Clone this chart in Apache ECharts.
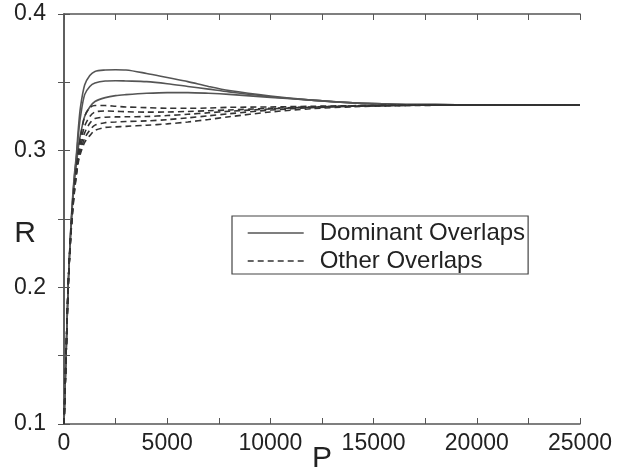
<!DOCTYPE html>
<html>
<head>
<meta charset="utf-8">
<script src="https://cdn.jsdelivr.net/npm/echarts@6/dist/echarts.min.js"></script>
<style>
html,body{margin:0;padding:0;background:#fff;}
#chart{width:626px;height:476px;}
</style>
</head>
<body>
<div id="chart"></div>
<script>
// P values (x)
var pValues = [0, 100, 200, 300, 400, 500, 600, 700, 800, 1000, 1250, 1500, 2000, 2500, 3000, 4000, 5000, 6000, 7000, 8000, 10000, 12000, 14000, 16000, 18000, 20000, 22000, 25000];

// Dominant overlaps (solid)
var dominant1 = [0.100, 0.150, 0.200, 0.235, 0.262, 0.282, 0.297, 0.317, 0.332, 0.348, 0.355, 0.358, 0.359, 0.3592, 0.359, 0.3565, 0.3535, 0.3505, 0.347, 0.344, 0.340, 0.337, 0.335, 0.334, 0.3337, 0.3334, 0.3333, 0.3333];
var dominant2 = [0.100, 0.150, 0.200, 0.234, 0.260, 0.280, 0.295, 0.312, 0.325, 0.341, 0.347, 0.3495, 0.351, 0.3512, 0.351, 0.3505, 0.349, 0.347, 0.345, 0.343, 0.3395, 0.337, 0.335, 0.334, 0.3337, 0.3334, 0.3333, 0.3333];
var dominant3 = [0.100, 0.150, 0.200, 0.233, 0.258, 0.277, 0.290, 0.303, 0.312, 0.325, 0.332, 0.336, 0.3388, 0.3403, 0.341, 0.342, 0.3425, 0.3425, 0.342, 0.3412, 0.339, 0.337, 0.335, 0.334, 0.3337, 0.3334, 0.3333, 0.3333];

// Other overlaps (dashed)
var other1 = [0.100, 0.150, 0.200, 0.232, 0.256, 0.274, 0.287, 0.300, 0.310, 0.325, 0.3315, 0.333, 0.333, 0.3325, 0.332, 0.3315, 0.331, 0.331, 0.3312, 0.3317, 0.332, 0.3325, 0.3329, 0.3332, 0.3333, 0.3333, 0.3333, 0.3333];
var other2 = [0.100, 0.150, 0.200, 0.232, 0.255, 0.272, 0.285, 0.298, 0.306, 0.318, 0.325, 0.3283, 0.329, 0.3288, 0.3285, 0.3282, 0.3283, 0.3287, 0.3292, 0.3298, 0.331, 0.332, 0.3327, 0.3331, 0.3333, 0.3333, 0.3333, 0.3333];
var other3 = [0.100, 0.150, 0.200, 0.231, 0.254, 0.271, 0.284, 0.296, 0.303, 0.313, 0.320, 0.3235, 0.3245, 0.3247, 0.3248, 0.325, 0.3257, 0.3266, 0.3277, 0.3288, 0.3305, 0.3318, 0.3326, 0.333, 0.3333, 0.3333, 0.3333, 0.3333];
var other4 = [0.100, 0.150, 0.200, 0.231, 0.253, 0.270, 0.283, 0.294, 0.300, 0.309, 0.315, 0.3187, 0.3205, 0.321, 0.3213, 0.3218, 0.3227, 0.324, 0.3255, 0.327, 0.3297, 0.3314, 0.3325, 0.333, 0.3333, 0.3333, 0.3333, 0.3333];
var other5 = [0.100, 0.150, 0.200, 0.230, 0.252, 0.269, 0.282, 0.292, 0.298, 0.306, 0.311, 0.3148, 0.317, 0.3174, 0.3178, 0.3186, 0.3196, 0.321, 0.3228, 0.3248, 0.3283, 0.3307, 0.3321, 0.3329, 0.3332, 0.3333, 0.3333, 0.3333];

var xTickLabels = [0, 5000, 10000, 15000, 20000, 25000];
var yTickLabels = ['0.1', '0.2', '0.3', '0.4'];

var dominantSeries = [dominant1, dominant2, dominant3];
var otherSeries = [other1, other2, other3, other4, other5];

function pairs(arr) {
  return pValues.map(function (p, i) { return [p, arr[i]]; });
}

var series = [];
dominantSeries.forEach(function (arr) {
  series.push({
    name: 'Dominant Overlaps', type: 'line', data: pairs(arr), smooth: 0.3,
    showSymbol: false, symbol: 'none', silent: true,
    lineStyle: { color: '#555', width: 1.6, type: 'solid' },
    itemStyle: { color: '#555' }
  });
});
otherSeries.forEach(function (arr) {
  series.push({
    name: 'Other Overlaps', type: 'line', data: pairs(arr), smooth: 0.3,
    showSymbol: false, symbol: 'none', silent: true,
    lineStyle: { color: '#333', width: 1.6, type: [6, 4] },
    itemStyle: { color: '#333' }
  });
});

var font = 'Liberation Sans, Arial, Helvetica, sans-serif';
var axisColor = '#555';

var chart = echarts.init(document.getElementById('chart'), null, { renderer: 'canvas' });
chart.setOption({
  backgroundColor: '#fff',
  animation: false,
  grid: { left: 64, right: 46, top: 14, bottom: 52, containLabel: false, outerBoundsMode: 'none' },
  legend: {
    data: ['Dominant Overlaps', 'Other Overlaps'],
    orient: 'vertical',
    left: 232, top: 216,
    itemWidth: 56, itemHeight: 14, itemGap: 4,
    padding: [5, 3, 1, 15],
    borderColor: '#444', borderWidth: 1.2,
    selectedMode: false,
    itemStyle: { opacity: 0 },
    lineStyle: { width: 1.4 },
    textStyle: { fontFamily: font, fontSize: 24, color: '#222', padding: [0, 0, 0, 11], lineHeight: 24 }
  },
  xAxis: [{
    type: 'value', min: 0, max: 25000, interval: 2500,
    name: 'P', nameLocation: 'middle', nameGap: 20, nameMoveOverlap: false,
    nameTextStyle: { fontFamily: font, fontSize: 30, color: '#222' },
    axisLine: { show: true, lineStyle: { color: axisColor, width: 1.5 } },
    axisTick: { show: true, inside: true, length: 6, lineStyle: { color: axisColor } },
    splitLine: { show: false },
    axisLabel: {
      fontFamily: font, fontSize: 23, color: '#222', margin: 8,
      formatter: function (v) { return xTickLabels.indexOf(v) >= 0 ? String(v) : ''; }
    }
  }, {
    type: 'value', min: 0, max: 25000, interval: 2500, position: 'top',
    axisLine: { show: true, lineStyle: { color: axisColor, width: 1.5 } },
    axisTick: { show: true, inside: true, length: 6, lineStyle: { color: axisColor } },
    splitLine: { show: false }, axisLabel: { show: false }
  }],
  yAxis: [{
    type: 'value', min: 0.1, max: 0.4, interval: 0.05,
    name: 'R', nameLocation: 'middle', nameGap: 28, nameRotate: 0, nameMoveOverlap: false,
    nameTextStyle: { fontFamily: font, fontSize: 30, color: '#222', verticalAlign: 'top' },
    axisLine: { show: true, lineStyle: { color: axisColor, width: 1.5 } },
    axisTick: { show: true, inside: true, length: 6, lineStyle: { color: axisColor } },
    splitLine: { show: false },
    axisLabel: {
      fontFamily: font, fontSize: 23, color: '#222', margin: 18,
      formatter: function (v) { var t = v.toFixed(1); return (Math.abs(v - parseFloat(t)) < 1e-6 && yTickLabels.indexOf(t) >= 0) ? t : ''; }
    }
  }, {
    type: 'value', min: 0.1, max: 0.4, interval: 0.05, position: 'right',
    axisLine: { show: true, lineStyle: { color: axisColor, width: 1.5 } },
    axisTick: { show: true, inside: true, length: 6, lineStyle: { color: axisColor } },
    splitLine: { show: false }, axisLabel: { show: false }
  }],
  series: series
});
</script>
</body>
</html>
